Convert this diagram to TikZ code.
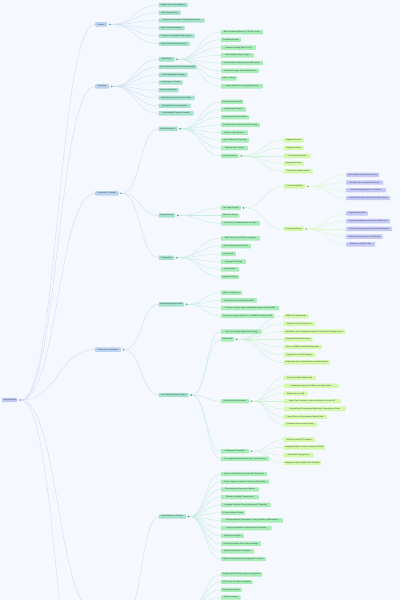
\documentclass[tikz,border=0pt]{standalone}
\usepackage{fontspec}
\newfontfamily\mapfont{Liberation Sans}
\usetikzlibrary{calc}
\definecolor{bgc}{HTML}{F5F8FE}
\definecolor{txt}{HTML}{2F3A4A}
\definecolor{c0}{HTML}{C3C7F3}
\definecolor{c1}{HTML}{BBD3F0}
\definecolor{c2}{HTML}{A5E2CB}
\definecolor{c3}{HTML}{A8ECB8}
\definecolor{c4}{HTML}{D2F8A8}
\definecolor{c5}{HTML}{C5C9F6}
\definecolor{k0}{HTML}{7B82D9}
\definecolor{k1}{HTML}{6F98CF}
\definecolor{k2}{HTML}{3FA37D}
\definecolor{k3}{HTML}{4DB36A}
\definecolor{k4}{HTML}{86C440}
\definecolor{ec0}{HTML}{D4DAF6}
\definecolor{ec1}{HTML}{D0E0F2}
\definecolor{ec2}{HTML}{CBEDE0}
\definecolor{ec3}{HTML}{CFF2D5}
\definecolor{ec4}{HTML}{E0F7CD}
\pgfdeclarelayer{bglayer}
\pgfdeclarelayer{edgelayer}
\pgfsetlayers{bglayer,edgelayer,main}
\newcommand\conn[3]{\draw[#1] let \p1=(#2), \p2=(#3) in (\p1) .. controls ({0.5*\x1+0.5*\x2},\y1) and ({0.5*\x1+0.5*\x2},\y2) .. (\p2);}
\tikzset{
  nd/.style={anchor=west, inner xsep=1.4pt, inner ysep=0pt, minimum height=4.4pt,
    rounded corners=0.7pt, text=txt, font=\mapfont\fontsize{1.8}{2}\selectfont},
  wd/.style={minimum width=#1pt},
  l0/.style={nd, fill=c0}, l1/.style={nd, fill=c1}, l2/.style={nd, fill=c2},
  l3/.style={nd, fill=c3}, l4/.style={nd, fill=c4}, l5/.style={nd, fill=c5},
  tg/.style={circle, inner sep=0pt, minimum size=1.9pt},
  t0/.style={tg, fill=k0}, t1/.style={tg, fill=k1}, t2/.style={tg, fill=k2},
  t3/.style={tg, fill=k3}, t4/.style={tg, fill=k4},
  ed/.style={line width=0.4pt},
  e0/.style={ed, draw=ec0}, e1/.style={ed, draw=ec1}, e2/.style={ed, draw=ec2},
  e3/.style={ed, draw=ec3}, e4/.style={ed, draw=ec4}
}
\begin{document}
\begin{tikzpicture}[x=1pt,y=-1pt]
\useasboundingbox (0,0) rectangle (400,600);
\begin{pgfonlayer}{bglayer}
\fill[bgc] (0,0) rectangle (400,600);
\end{pgfonlayer}
% root
\node[l0, wd=15] (root) at (2,400) {Speech Models};
\node[t0] (rootT) at ([xshift=2.4pt]root.east) {};
% level 1
\node[l1, wd=12] (src) at (95,24.4) {Sources};
\node[t1] (srcT) at ([xshift=2.4pt]src.east) {};
\node[l1, wd=14] (qst) at (95,86.3) {Questions};
\node[t1] (qstT) at ([xshift=2.4pt]qst.east) {};
\node[l1, wd=23.3] (arch) at (95,193.3) {Architecture \& Training};
\node[t1] (archT) at ([xshift=2.4pt]arch.east) {};
\node[l1, wd=25.7] (perf) at (95,349.6) {Performance \& Evaluation};
\node[t1] (perfT) at ([xshift=2.4pt]perf.east) {};
\coordinate (lowA) at (95,612);
\coordinate (lowAT) at (126,612);
\coordinate (lowB) at (95,775.6);
% Sources children
\node[l2, wd=29] (s1) at (158.3,5.0) {Radford et al. 2022 (Whisper)};
\node[l2, wd=22] (s2) at (158.3,12.7) {arXiv Preprint (2022)};
\node[l2, wd=46] (s3) at (158.3,20.5) {Project Documentation \& Reproducibility Notes};
\node[l2, wd=26] (s4) at (158.3,28.2) {Single Dataset Benchmark};
\node[l2, wd=36] (s5) at (158.3,35.9) {Evaluation on Multiple Public Corpora};
\node[l2, wd=31] (s6) at (158.3,43.7) {Model Card and Release Notes};
% Questions children
\node[l2, wd=16] (q1) at (158.3,59.3) {Model Scale};
\node[t2] (q1T) at ([xshift=2.4pt]q1.east) {};
\node[l2, wd=38] (q2) at (158.3,67.0) {Does Scale Improve Out-of-Domain Results};
\node[l2, wd=29] (q3) at (158.3,74.8) {Unified Multilingual Modeling};
\node[l2, wd=24] (q4) at (158.3,82.5) {Long-Sequence Context};
\node[l2, wd=20] (q5) at (158.3,90.2) {Bias and Calibration};
\node[l2, wd=36] (q6) at (158.3,97.9) {Why Minority Accents Remain Harder};
\node[l2, wd=32] (q7) at (158.3,105.7) {Are Speaker Errors Systematic};
\node[l2, wd=35] (q8) at (158.3,113.4) {Cross-Modality Transfer Potential};
% Model Scale children
\node[l3, wd=42] (m1) at (220.7,32.1) {Base Parameter Efficiency (1.5B, 32 Layers)};
\node[l3, wd=20] (m2) at (220.7,39.8) {Pretraining Scheme};
\node[l3, wd=35] (m3) at (220.7,47.6) {Parameter Scaling (39M to 1.5B)};
\node[l3, wd=33] (m4) at (220.7,55.3) {Model Variants (Tiny to Large)};
\node[l3, wd=42] (m5) at (220.7,63.0) {Decoder Token Scaling (Context 448 Tokens)};
\node[l3, wd=38] (m6) at (220.7,70.8) {Structural Changes Across Model Sizes};
\node[l3, wd=16] (m7) at (220.7,78.5) {Width vs Depth};
\node[l3, wd=42] (m8) at (220.7,86.3) {Sparse Identity Fine-Tuning Experiments};
% Architecture children
\node[l2, wd=19] (a1) at (158.3,128.8) {Model Architecture};
\node[t2] (a1T) at ([xshift=2.4pt]a1.east) {};
\node[l2, wd=16.7] (a2) at (158.3,215.5) {Training Process};
\node[t2] (a2T) at ([xshift=2.4pt]a2.east) {};
\node[l2, wd=15.7] (a3) at (158.3,257.7) {Training Data};
\node[t2] (a3T) at ([xshift=2.4pt]a3.east) {};
% Model Architecture children
\node[l3, wd=21.7] (ma1) at (220.7,101.7) {Encoder-Decoder Model};
\node[l3, wd=25] (ma2) at (220.7,109.4) {Log-Mel Input Features};
\node[l3, wd=28] (ma3) at (220.7,117.2) {Convolutional Front-End Stem};
\node[l3, wd=39] (ma4) at (220.7,124.9) {Sinusoidal \& Learned Positional Encodings};
\node[l3, wd=27] (ma5) at (220.7,132.6) {Attention Layer Structure};
\node[l3, wd=28] (ma6) at (220.7,140.3) {Input Window of 30 Seconds};
\node[l3, wd=27] (ma7) at (220.7,148.1) {Multitask Token Format};
\node[l3, wd=17.7] (ma8) at (220.7,155.8) {Key Components};
\node[t3] (ma8T) at ([xshift=2.4pt]ma8.east) {};
% Key Components children
\node[l4, wd=20] (k1) at (283.3,140.3) {Sequence Encoder};
\node[l4, wd=20] (k2) at (283.3,148.0) {Transformer Stack};
\node[l4, wd=27] (k3) at (283.3,155.8) {Cross-Attention Blocks};
\node[l4, wd=20] (k4) at (283.3,163.5) {Sequence Decoder};
\node[l4, wd=29] (k5) at (283.3,171.2) {Task-Specific Output Heads};
% Training Process children
\node[l3, wd=20] (tp1) at (220.7,207.8) {Two-Stage Process};
\node[t3] (tp1T) at ([xshift=2.4pt]tp1.east) {};
\node[l3, wd=18.5] (tp2) at (220.7,215.5) {Multi-task Tuning};
\node[l3, wd=39] (tp3) at (220.7,223.3) {Batch Size, Schedule \& Warm-Up Steps};
\node[l4, wd=21.7] (ph1) at (283.3,186.4) {1. Pre-training Phase};
\node[t4] (ph1T) at ([xshift=2.4pt]ph1.east) {};
\node[l4, wd=20] (ph2) at (283.3,228.9) {2. Fine-tuning Phase};
\node[t4] (ph2T) at ([xshift=2.4pt]ph2.east) {};
\node[l5, wd=33] (p1) at (346,174.8) {Uses Weakly Supervised Audio Data};
\node[l5, wd=37] (p2) at (346,182.5) {680,000 Hours of Labeled Web Audio};
\node[l5, wd=40] (p3) at (346,190.2) {Multitask Training (ASR \& Translation)};
\node[l5, wd=44] (p4) at (346,198.0) {Next-Token Prediction With Special Task Tokens};
\node[l5, wd=21.7] (f1) at (346,213.4) {Target Domain Model};
\node[l5, wd=44] (f2) at (346,221.1) {Supervised Adaptation on Domain-Specific Data};
\node[l5, wd=45.7] (f3) at (346,228.9) {Optional Language-Specific Decoder Refinement};
\node[l5, wd=36.3] (f4) at (346,236.6) {Reduced Learning Rate \& Few Epochs};
\node[l5, wd=29] (f5) at (346,244.3) {Evaluate on Held-Out Sets};
% Training Data children
\node[l3, wd=39] (d1) at (220.7,238.4) {680k Hours Total, 96 Other Languages};
\node[l3, wd=30] (d2) at (220.7,246.1) {Web-Scraped Audio-Text Pairs};
\node[l3, wd=15] (d3) at (220.7,253.9) {Noisy Labels};
\node[l3, wd=25] (d4) at (220.7,261.6) {Language ID Filtering};
\node[l3, wd=18] (d5) at (220.7,269.3) {Deduplication};
\node[l3, wd=18] (d6) at (220.7,277.0) {Alignment Checks};
% Performance children
\node[l2, wd=25] (b1) at (158.3,304.3) {Speech Recognition Results};
\node[t2] (b1T) at ([xshift=2.4pt]b1.east) {};
\node[l2, wd=30] (b2) at (158.3,395.0) {Zero-Shot Robustness Studies};
\node[t2] (b2T) at ([xshift=2.4pt]b2.east) {};
\node[l3, wd=21] (r1) at (220.7,292.7) {WER on LibriSpeech};
\node[l3, wd=36] (r2) at (220.7,300.4) {Robustness Across Distribution Shift};
\node[l3, wd=58.3] (r3) at (220.7,308.1) {LS-Clean vs Other: Supervised Baselines Match at Equal WER};
\node[l3, wd=53.3] (r4) at (220.7,315.9) {Comparison Against Wav2Vec 2.0, HuBERT and Other SOTA};
\node[l3, wd=40.7] (z1) at (220.7,331.6) {Zero-Shot Transfer Without Fine-Tuning};
\node[l3, wd=13] (z2) at (220.7,339.3) {WER Details};
\node[t3] (z2T) at ([xshift=2.4pt]z2.east) {};
\node[l3, wd=28] (z3) at (220.7,401.2) {Noise \& Accent Robustness};
\node[t3] (z3T) at ([xshift=2.4pt]z3.east) {};
\node[l3, wd=28] (z4) at (220.7,451.2) {Multilingual \& Translation};
\node[t3] (z4T) at ([xshift=2.4pt]z4.east) {};
\node[l3, wd=48.3] (z5) at (220.7,458.9) {Per-Language Scaling Trends (e.g., Low-Resource)};
\node[l4, wd=25] (w1) at (283.3,316.1) {WER on 12 Benchmarks};
\node[l4, wd=31.7] (w2) at (283.3,323.8) {Median of 55.2\% Fewer Errors};
\node[l4, wd=61.7] (w3) at (283.3,331.6) {Breakdown: Noise, Background Speech, Domain Shift, Speaker Accent};
\node[l4, wd=29] (w4) at (283.3,339.3) {Compared With Human Scores};
\node[l4, wd=38.3] (w5) at (283.3,347.0) {Best on CHiME-6 and AMI Meeting Data};
\node[l4, wd=31.7] (w6) at (283.3,354.8) {Degrades at Low SNR Settings};
\node[l4, wd=46.7] (w7) at (283.3,362.3) {Outperforms Fine-Tuned Baselines on Most Datasets};
\node[l4, wd=32.3] (n1) at (283.3,377.9) {Robust to Additive White Noise};
\node[l4, wd=55] (n2) at (283.3,385.7) {Significantly Improved Confidence at Higher Noise};
\node[l4, wd=24] (n3) at (283.3,393.5) {Stable Down to 10 dB};
\node[l4, wd=57.3] (n4) at (283.3,401.2) {Higher Top-1 Accuracy on Accented Speech vs Prior ASR};
\node[l4, wd=62.3] (n5) at (283.3,408.9) {Graceful Word Comparisons With Human Transcribers at Scale};
\node[l4, wd=43.3] (n6) at (283.3,416.7) {Fewer Errors on Conversational Speech Data};
\node[l4, wd=33.3] (n7) at (283.3,424.4) {Consistent Across Accent Groups};
\node[l4, wd=31.7] (g1) at (283.3,439.6) {BLEU on CoVoST2 Translation};
\node[l4, wd=41.7] (g2) at (283.3,447.4) {Competitive WER on Common Voice \& FLEURS};
\node[l4, wd=30] (g3) at (283.3,455.1) {Scales With Training Hours};
\node[l4, wd=37.7] (g4) at (283.3,462.8) {Comparison With mSLAM \& XLS-R Models};
% Data acquisition
\node[l2, wd=27.3] (da) at (158.3,516.5) {Data Collection \& Filtering};
\node[t2] (daT) at ([xshift=2.4pt]da.east) {};
\node[l3, wd=46.3] (x1) at (220.7,474.0) {Source: 680,000 Hours of Audio With Transcripts};
\node[l3, wd=48.3] (x2) at (220.7,481.7) {Diverse Sources: Podcasts, Lectures, Video \& More};
\node[l3, wd=38] (x3) at (220.7,489.5) {Filtered Machine-Generated Captions};
\node[l3, wd=38] (x4) at (220.7,497.2) {Filtered Low-Quality Transcriptions};
\node[l3, wd=49.7] (x5) at (220.7,504.9) {Language Detection Check (VoxLingua107 Classifier)};
\node[l3, wd=24] (x6) at (220.7,512.7) {30-Second Audio Chunks};
\node[l3, wd=62.3] (x7) at (220.7,520.4) {Text Normalization (Punctuation, Casing, Numbers, Abbreviations)};
\node[l3, wd=50.7] (x8) at (220.7,528.1) {Fuzzy De-Duplication of Near-Identical Transcripts};
\node[l3, wd=23] (x9) at (220.7,535.8) {Speaker-Level Splits};
\node[l3, wd=40] (x10) at (220.7,543.6) {Hold Out Evaluation Sets to Avoid Leakage};
\node[l3, wd=33.3] (x11) at (220.7,551.3) {Manual Spot Checks of Samples};
\node[l3, wd=45] (x12) at (220.7,559.0) {Balanced Sampling Across Languages \& Domains};
\coordinate (apT) at (191,605);
\node[l3, wd=41.3] (y1) at (220.7,574.3) {Deployed via API \& Open-Source Checkpoints};
\node[l3, wd=31.7] (y2) at (220.7,582.0) {MIT License for Code and Weights};
\node[l3, wd=20.7] (y3) at (220.7,589.7) {Meeting Transcription};
\node[l3, wd=19.7] (y4) at (220.7,597.5) {Podcast Indexing};
% edges
\begin{pgfonlayer}{edgelayer}
\foreach \c in {src,qst,arch,perf}{\conn{e0}{rootT.east}{\c.west}}
\conn{e0}{rootT.east}{lowA}
\conn{e0}{rootT.east}{lowB}
\foreach \i in {1,...,6}{\conn{e1}{srcT.east}{s\i.west}}
\foreach \i in {1,...,8}{\conn{e1}{qstT.east}{q\i.west}}
\foreach \i in {1,...,8}{\conn{e2}{q1T.east}{m\i.west}}
\foreach \i in {1,...,3}{\conn{e1}{archT.east}{a\i.west}}
\foreach \i in {1,...,8}{\conn{e2}{a1T.east}{ma\i.west}}
\foreach \i in {1,...,5}{\conn{e3}{ma8T.east}{k\i.west}}
\foreach \i in {1,...,3}{\conn{e2}{a2T.east}{tp\i.west}}
\foreach \i in {1,2}{\conn{e3}{tp1T.east}{ph\i.west}}
\foreach \i in {1,...,4}{\conn{e4}{ph1T.east}{p\i.west}}
\foreach \i in {1,...,5}{\conn{e4}{ph2T.east}{f\i.west}}
\foreach \i in {1,...,6}{\conn{e2}{a3T.east}{d\i.west}}
\foreach \i in {1,2}{\conn{e1}{perfT.east}{b\i.west}}
\foreach \i in {1,...,4}{\conn{e2}{b1T.east}{r\i.west}}
\foreach \i in {1,...,5}{\conn{e2}{b2T.east}{z\i.west}}
\foreach \i in {1,...,7}{\conn{e3}{z2T.east}{w\i.west}}
\foreach \i in {1,...,7}{\conn{e3}{z3T.east}{n\i.west}}
\foreach \i in {1,...,4}{\conn{e3}{z4T.east}{g\i.west}}
\conn{e1}{lowAT}{da.west}
\foreach \i in {1,...,12}{\conn{e2}{daT.east}{x\i.west}}
\foreach \i in {1,...,4}{\conn{e2}{apT}{y\i.west}}
\end{pgfonlayer}
\end{tikzpicture}
\end{document}
